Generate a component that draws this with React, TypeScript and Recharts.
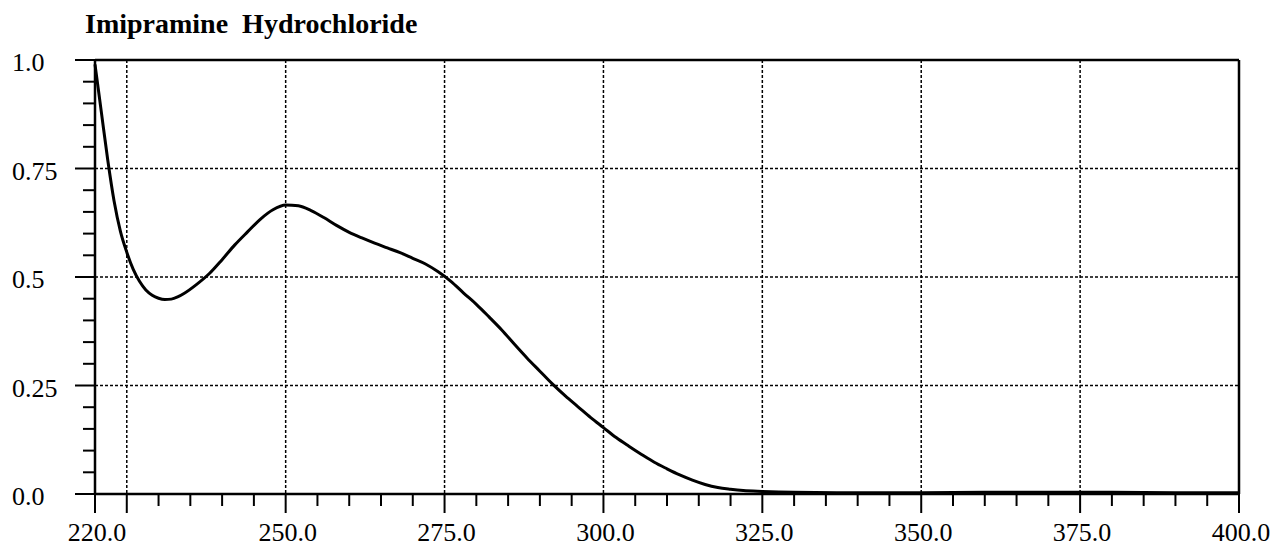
import React from "react";
import { LineChart, Line, XAxis, YAxis, CartesianGrid, ReferenceLine } from "recharts";

const title = "Imipramine  Hydrochloride";

const wavelengths = [
  220, 221, 222, 223, 224, 225, 226, 227, 228, 229, 230, 231, 232, 233, 234, 236, 238, 240, 242,
  244, 246, 248, 250, 252, 254, 256, 258, 260, 262, 264, 266, 268, 270, 272, 274, 276, 278, 280,
  282, 284, 286, 288, 290, 292, 294, 296, 298, 300, 302, 304, 306, 308, 310, 312, 314, 316, 318,
  320, 322, 325, 330, 340, 350, 360, 370, 380, 390, 400,
];
const absorbance = [
  0.99, 0.88, 0.77, 0.675, 0.605, 0.557, 0.518, 0.49, 0.47, 0.458, 0.451, 0.448, 0.449, 0.454,
  0.462, 0.483, 0.508, 0.54, 0.574, 0.604, 0.633, 0.655, 0.666, 0.664, 0.653, 0.637, 0.619,
  0.603, 0.59, 0.578, 0.567, 0.556, 0.543, 0.53, 0.512, 0.49, 0.463, 0.437, 0.408, 0.378, 0.345,
  0.313, 0.283, 0.253, 0.226, 0.201, 0.176, 0.153, 0.13, 0.11, 0.091, 0.073, 0.058, 0.044, 0.032,
  0.022, 0.015, 0.011, 0.008, 0.006, 0.004, 0.003, 0.003, 0.004, 0.004, 0.004, 0.003, 0.003,
];

const xLabelValues = [220, 250, 275, 300, 325, 350, 375, 400];
const xLabels = ["220.0", "250.0", "275.0", "300.0", "325.0", "350.0", "375.0", "400.0"];
const yLabelValues = [0, 0.25, 0.5, 0.75, 1];
const yLabels = ["0.0", "0.25", "0.5", "0.75", "1.0"];
const xGrid = [225, 250, 275, 300, 325, 350, 375];
const yGrid = [0.25, 0.5, 0.75];

// minor ticks every 5 nm / 0.05
const xTicks: number[] = [];
for (let v = 220; v <= 400; v += 5) xTicks.push(v);
const yTicks: number[] = [];
for (let i = 0; i <= 20; i++) yTicks.push(Math.round(i * 5) / 100);

const data = wavelengths.map((w, i) => ({ w, a: absorbance[i] }));

const font =
  '"Liberation Serif", "DejaVu Serif", "Noto Serif", Tinos, "Times New Roman", Times, serif';

const XTick = (props: any) => {
  const { x, y, payload } = props;
  const v = payload.value;
  const major = v % 25 === 0 || v === 220;
  const idx = xLabelValues.indexOf(v);
  return (
    <g>
      <line x1={x} x2={x} y1={y} y2={y + (major ? 19 : 12)} stroke="#000" strokeWidth={2} />
      {idx >= 0 && (
        <text x={x + 2} y={y + 47} textAnchor="middle" style={{ fontFamily: font }} fontSize={26} fill="#000">
          {xLabels[idx]}
        </text>
      )}
    </g>
  );
};

const YTick = (props: any) => {
  const { x, y, payload } = props;
  const v = payload.value;
  const idx = yLabelValues.findIndex((l) => Math.abs(l - v) < 1e-6);
  const major = idx >= 0;
  return (
    <g>
      <line x1={x} x2={x - (major ? 20 : 12)} y1={y} y2={y} stroke="#000" strokeWidth={2} />
      {major && (
        <text x={12} y={y + 11} textAnchor="start" style={{ fontFamily: font }} fontSize={26} fill="#000">
          {yLabels[idx]}
        </text>
      )}
    </g>
  );
};

export default function App() {
  return (
    <div style={{ position: "absolute", left: 0, top: 0, width: 1277, height: 548, background: "#fff" }}>
      <div
        style={{
          position: "absolute",
          left: 85,
          top: 10,
          fontFamily: font,
          fontWeight: "bold",
          fontSize: 28,
          lineHeight: "28px",
          whiteSpace: "pre",
          color: "#000",
        }}
      >
        {title}
      </div>
      <LineChart width={1277} height={548} data={data} margin={{ top: 60, right: 38, bottom: 0, left: 0 }}>
        <CartesianGrid
          stroke="#000"
          strokeWidth={1.5}
          strokeDasharray="3 2"
          verticalValues={xGrid}
          horizontalValues={yGrid}
        />
        <XAxis
          dataKey="w"
          type="number"
          domain={[220, 400]}
          ticks={xTicks}
          interval={0}
          height={54}
          tickSize={0}
          tickMargin={0}
          tickLine={false}
          axisLine={{ stroke: "#000", strokeWidth: 2.5 }}
          tick={<XTick />}
        />
        <YAxis
          type="number"
          domain={[0, 1]}
          ticks={yTicks}
          interval={0}
          width={95}
          tickSize={0}
          tickMargin={0}
          tickLine={false}
          axisLine={{ stroke: "#000", strokeWidth: 2.5 }}
          tick={<YTick />}
        />
        <ReferenceLine y={1} stroke="#000" strokeWidth={2.5} />
        <ReferenceLine x={400} stroke="#000" strokeWidth={2.5} />
        <Line
          type="monotone"
          dataKey="a"
          stroke="#000"
          strokeWidth={3}
          dot={false}
          isAnimationActive={false}
        />
      </LineChart>
    </div>
  );
}
